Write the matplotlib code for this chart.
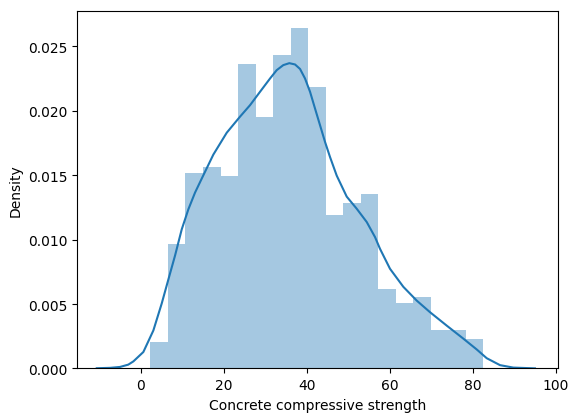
import matplotlib
matplotlib.use("Agg")
import matplotlib.pyplot as plt
import numpy as np

# histogram: 19 bins over the strength range, counts
bin_lo = 2.33
bin_hi = 82.6
counts = [9, 42, 66, 68, 65, 103, 85, 106, 115, 95, 52, 56, 59, 27, 22, 24, 13, 13, 10]

# kde curve
kde_x = [-10.6, -7.4, -5.0, -3.0, -1.78, 0.63, 3.04, 5.06, 6.65, 8.27, 9.88, 11.47, 13.08,
         14.70, 17.49, 20.72, 23.93, 26.34, 28.75, 31.16, 32.77, 34.36, 35.81, 37.18,
         38.39, 39.59, 40.80, 42.00, 43.21, 44.41, 45.61, 47.23, 49.64, 52.05, 54.46,
         56.46, 57.66, 60.07, 63.28, 66.51, 69.71, 73.73, 77.73, 80.96, 83.37, 86.58,
         89.78, 95.0]
kde_y = [0.00002, 0.00005, 0.00012, 0.00030, 0.00055, 0.00128, 0.00295, 0.00505, 0.00690,
         0.00877, 0.01080, 0.01235, 0.01365, 0.01474, 0.01660, 0.01830, 0.01955,
         0.02044, 0.02148, 0.02251, 0.02316, 0.02355, 0.02370, 0.02360, 0.02325,
         0.02251, 0.02148, 0.02018, 0.01888, 0.01759, 0.01642, 0.01497, 0.01334,
         0.01240, 0.01137, 0.01020, 0.00929, 0.00774, 0.00634, 0.00527, 0.00437,
         0.00333, 0.00232, 0.00148, 0.00080, 0.00026, 0.00007, 0.00001]

edges = np.linspace(bin_lo, bin_hi, len(counts) + 1)
width = edges[1] - edges[0]
dens = np.array(counts) / (sum(counts) * width)

fig = plt.figure(figsize=(5.68, 4.14), dpi=100)
ax = fig.add_axes([0.136, 0.1075, 0.846, 0.8635])

ax.bar(edges[:-1], dens, width=width, align='edge', color='#1f77b4', alpha=0.4, linewidth=0)
ax.plot(kde_x, kde_y, color='#1f77b4', lw=1.5)

ax.set_xlim(-15.3, 100.5)
ax.set_xlabel("Concrete compressive strength")
ax.set_ylabel("Density")

fig.savefig("out.png", dpi=100)
